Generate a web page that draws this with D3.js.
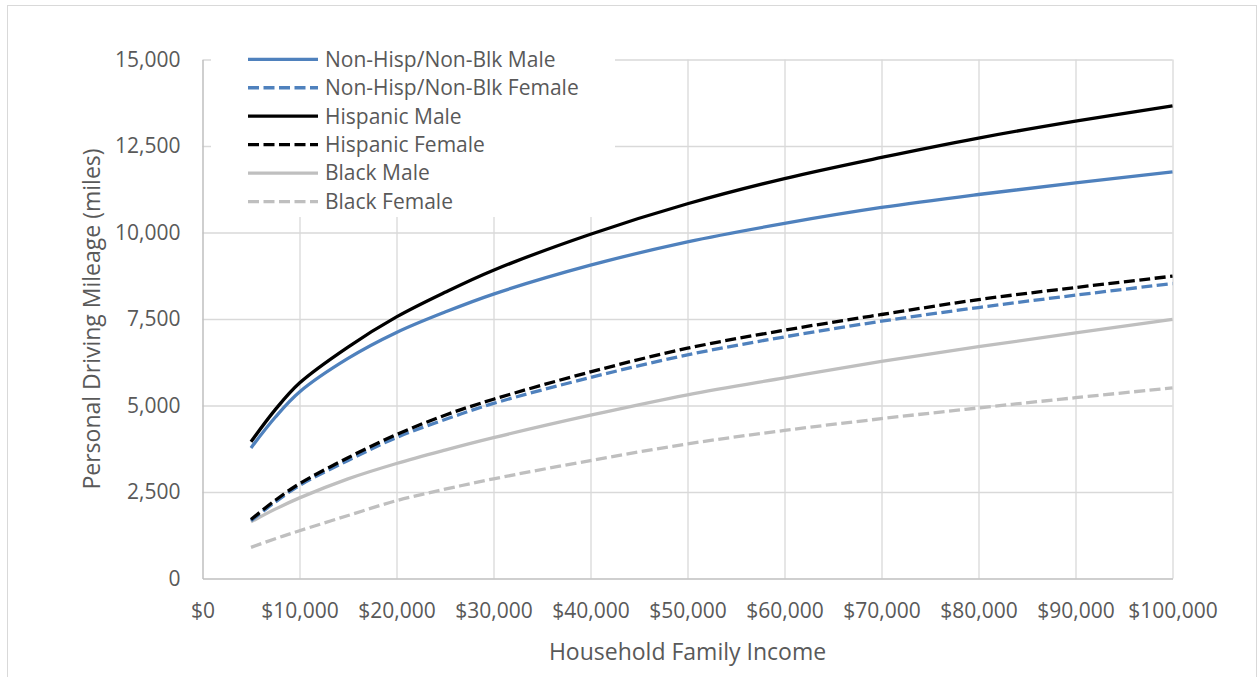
<!DOCTYPE html>
<html>
<head>
<meta charset="utf-8">
<script src="https://cdn.jsdelivr.net/npm/d3@7"></script>
<style>
  html, body { margin: 0; padding: 0; background: #fff; }
  svg { display: block; font-family: "Open Sans", sans-serif; }
</style>
</head>
<body>
<svg id="chart" width="1258" height="677"></svg>
<script>
// ---- data ----
const incomes = [5000, 7500, 10000, 15000, 20000, 25000, 30000, 40000, 50000, 60000, 70000, 80000, 90000, 100000];
const nonHispMale   = [3775, 4660, 5390, 6360, 7110, 7700, 8220, 9055, 9730, 10263, 10723, 11098, 11434, 11751];
const nonHispFemale = [1670, 2210, 2690, 3410, 4075, 4595, 5060, 5809, 6465, 6983, 7436, 7832, 8188, 8526];
const hispMale      = [3950, 4880, 5650, 6690, 7560, 8270, 8910, 9950, 10830, 11560, 12170, 12730, 13220, 13660];
const hispFemale    = [1705, 2260, 2740, 3490, 4160, 4720, 5180, 5971, 6655, 7176, 7630, 8060, 8410, 8737];
const blackMale     = [1636, 2005, 2330, 2880, 3324, 3710, 4070, 4720, 5310, 5800, 6275, 6700, 7100, 7486];
const blackFemale   = [900, 1150, 1380, 1820, 2250, 2580, 2880, 3410, 3890, 4280, 4620, 4930, 5225, 5510];
const seriesNames = ["Non-Hisp/Non-Blk Male", "Non-Hisp/Non-Blk Female", "Hispanic Male", "Hispanic Female", "Black Male", "Black Female"];
const xTicks = [0, 10000, 20000, 30000, 40000, 50000, 60000, 70000, 80000, 90000, 100000];
const yTicks = [0, 2500, 5000, 7500, 10000, 12500, 15000];
const xTitle = "Household Family Income";
const yTitle = "Personal Driving Mileage (miles)";

// ---- styles ----
const seriesValues = [nonHispMale, nonHispFemale, hispMale, hispFemale, blackMale, blackFemale];
const colors = ["#4F81BD", "#4F81BD", "#000000", "#000000", "#BFBFBF", "#BFBFBF"];
const dashed = [false, true, false, true, false, true];
const dashPattern = "11,4.5";
const textColor = "#595959";

const svg = d3.select("#chart");

// outer chart border
svg.append("rect").attr("x", 7.5).attr("y", 5.5).attr("width", 1249).attr("height", 690)
  .attr("fill", "#fff").attr("stroke", "#D9D9D9").attr("stroke-width", 1);

const x = d3.scaleLinear().domain([0, 100000]).range([202.5, 1172.5]);
const y = d3.scaleLinear().domain([0, 15000]).range([578.5, 59.5]);

// gridlines
const grid = svg.append("g");
grid.append("g")
  .call(d3.axisBottom(x).tickValues(xTicks.slice(1)).tickSize(0).tickFormat(""))
  .call(g => g.select(".domain").remove())
  .call(g => g.selectAll(".tick line").attr("y1", y(0)).attr("y2", y(15000))
    .attr("stroke", "#D9D9D9").attr("stroke-width", 1.3));
grid.append("g")
  .call(d3.axisLeft(y).tickValues(yTicks.slice(1)).tickSize(0).tickFormat(""))
  .call(g => g.select(".domain").remove())
  .call(g => g.selectAll(".tick line").attr("x1", x(0)).attr("x2", x(100000))
    .attr("stroke", "#D9D9D9").attr("stroke-width", 1.3));

// axes
const xAxis = svg.append("g").attr("transform", `translate(0,${y(0)})`)
  .call(d3.axisBottom(x).tickValues(xTicks).tickSize(0).tickPadding(25).tickFormat(d3.format("$,")));
xAxis.select(".domain").attr("stroke", "#BFBFBF").attr("stroke-width", 1.5);
xAxis.selectAll("text").attr("fill", textColor).style("font-size", "21px").style("font-family", "'Open Sans', sans-serif");

const yAxis = svg.append("g").attr("transform", `translate(${x(0)},0)`)
  .call(d3.axisLeft(y).tickValues(yTicks).tickSize(0).tickPadding(22).tickFormat(d3.format(",")));
yAxis.select(".domain").attr("stroke", "#BFBFBF").attr("stroke-width", 1.5);
yAxis.selectAll("text").attr("fill", textColor).style("font-size", "21px").style("font-family", "'Open Sans', sans-serif");

// lines
const line = d3.line().x((d, i) => x(incomes[i])).y(d => y(d)).curve(d3.curveCatmullRom.alpha(0.5));
const drawOrder = [4, 5, 1, 0, 3, 2];
drawOrder.forEach(k => {
  svg.append("path").datum(seriesValues[k])
    .attr("d", line)
    .attr("fill", "none")
    .attr("stroke", colors[k])
    .attr("stroke-width", 3.3)
    .attr("stroke-dasharray", dashed[k] ? dashPattern : null);
});

// legend (white box over plot)
const lg = svg.append("g");
lg.append("rect").attr("x", 211).attr("y", 42).attr("width", 404).attr("height", 175).attr("fill", "#fff");
seriesNames.forEach((name, i) => {
  const ly = 59.3 + i * 28.45;
  lg.append("line").attr("x1", 248).attr("x2", 318).attr("y1", ly).attr("y2", ly)
    .attr("stroke", colors[i]).attr("stroke-width", 3.3)
    .attr("stroke-dasharray", dashed[i] ? dashPattern : null);
  lg.append("text").attr("x", 325).attr("y", ly).attr("dy", "0.35em")
    .attr("fill", textColor).style("font-size", "21px").text(name);
});

// axis titles
svg.append("text").attr("x", (x(0) + x(100000)) / 2).attr("y", 660)
  .attr("text-anchor", "middle").attr("fill", textColor).style("font-size", "23px").text(xTitle);
svg.append("text").attr("transform", `translate(100,${(y(0) + y(15000)) / 2}) rotate(-90)`)
  .attr("text-anchor", "middle").attr("fill", textColor).style("font-size", "23px").text(yTitle);
</script>
</body>
</html>
